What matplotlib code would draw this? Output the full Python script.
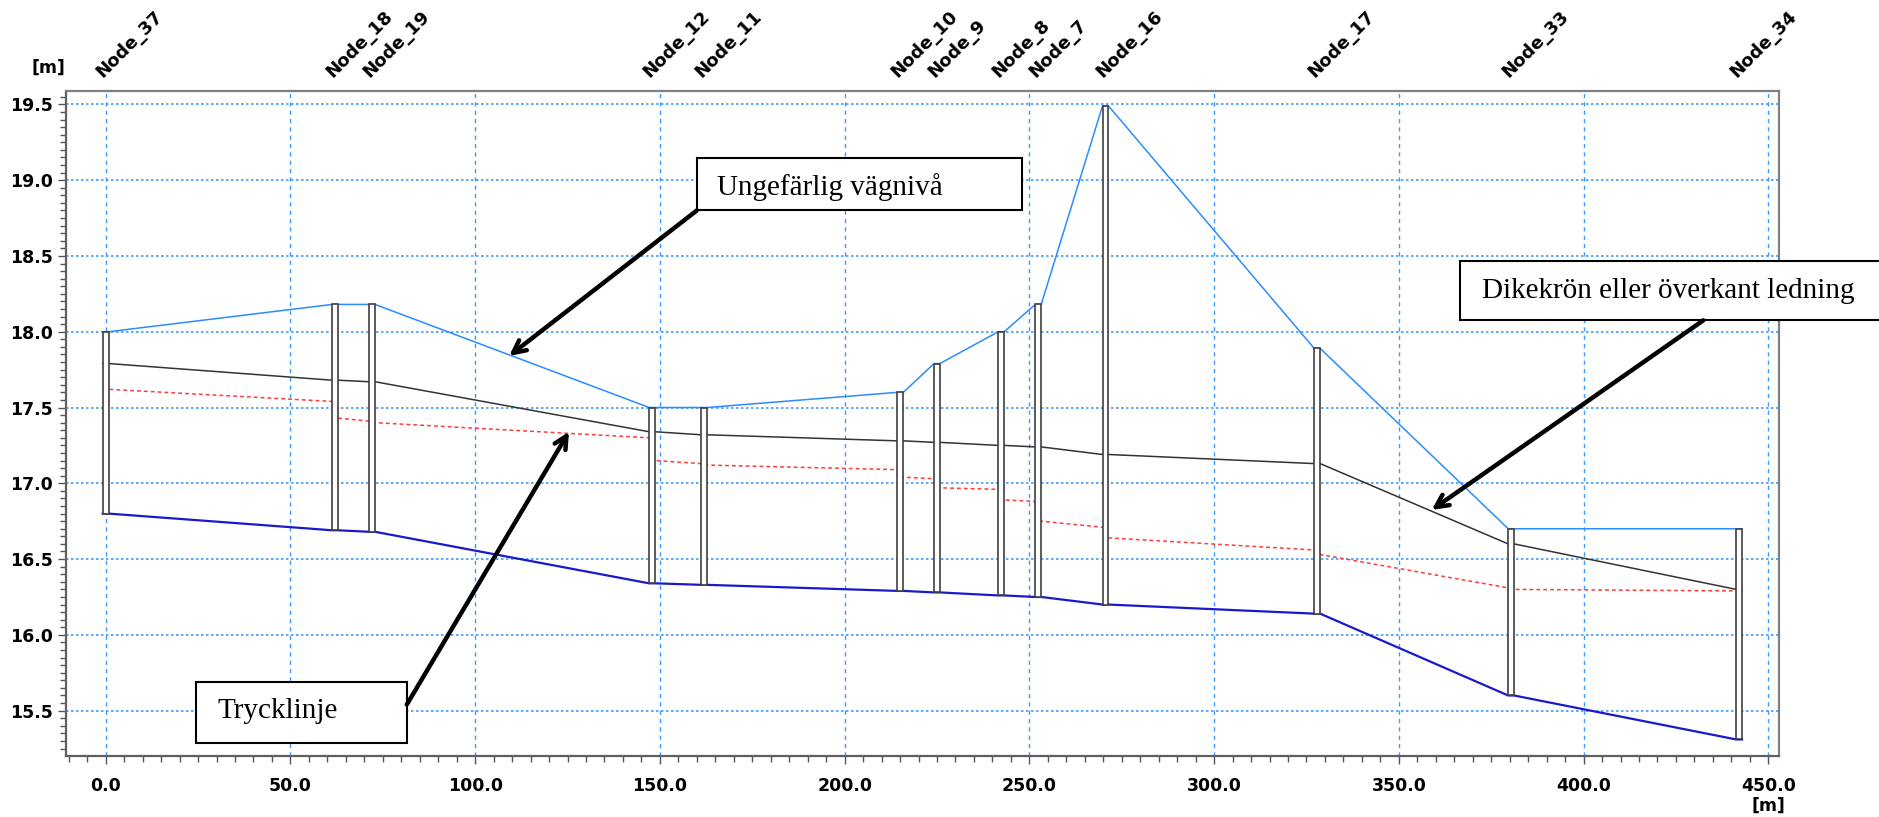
import matplotlib
matplotlib.use("Agg")
import matplotlib.pyplot as plt
from matplotlib.patches import Rectangle
from matplotlib.ticker import MultipleLocator, FormatStrFormatter

# profile along the pipe
nodes = ['Node_37', 'Node_18', 'Node_19', 'Node_12', 'Node_11', 'Node_10', 'Node_9',
         'Node_8', 'Node_7', 'Node_16', 'Node_17', 'Node_33', 'Node_34']
station = [0.0, 62.1, 72.1, 147.9, 162.0, 215.1, 225.0, 242.4, 252.4, 270.6, 327.9, 380.4, 442.1]
ground = [18.00, 18.18, 18.18, 17.50, 17.50, 17.60, 17.79, 18.00, 18.18, 19.49, 17.89, 16.70, 16.70]
invert = [16.80, 16.69, 16.68, 16.34, 16.33, 16.29, 16.28, 16.26, 16.25, 16.20, 16.14, 15.60, 15.31]
crown = [17.79, 17.68, 17.67, 17.34, 17.32, 17.28, 17.27, 17.25, 17.24, 17.19, 17.13, 16.60, 16.30]
head_in = [17.62, 17.54, 17.41, 17.30, 17.13, 17.09, 17.03, 16.96, 16.88, 16.71, 16.56, 16.31, 16.29]
head_out = [17.62, 17.43, 17.40, 17.15, 17.12, 17.04, 16.97, 16.89, 16.75, 16.64, 16.53, 16.30, 16.29]

well_w = 1.6

fig = plt.figure(figsize=(18.79, 8.17), dpi=100)
ax = fig.add_axes([0.035, 0.0747, 0.9118, 0.8139])

xs = []
g_y, c_y, i_y, h_y = [], [], [], []
for k in range(len(nodes)):
    xs += [station[k] - well_w / 2, station[k] + well_w / 2]
    g_y += [ground[k], ground[k]]
    c_y += [crown[k], crown[k]]
    i_y += [invert[k], invert[k]]
    h_y += [head_in[k], head_out[k]]

ax.plot(xs, g_y, color='#2b8cff', lw=1.1, zorder=2)
ax.plot(xs, c_y, color='#333333', lw=1.1, zorder=2)
ax.plot(xs, i_y, color='#1a1acc', lw=1.6, zorder=2)
ax.plot(xs, h_y, color='#ff3b3b', lw=1.1, dashes=(2.5, 2), zorder=2)

for k in range(len(nodes)):
    ax.add_patch(Rectangle((station[k] - well_w / 2, invert[k]), well_w,
                           ground[k] - invert[k], facecolor='white',
                           edgecolor='#404040', lw=1.2, zorder=3))
    ax.annotate(nodes[k], xy=(station[k], 1.0), xycoords=('data', 'axes fraction'),
                xytext=(-2, 9), textcoords='offset points', rotation=45,
                rotation_mode='anchor', ha='left', va='baseline',
                fontsize=13, fontweight='bold', annotation_clip=False)

ax.set_xlim(-10.8, 452.9)
ax.set_ylim(15.201, 19.588)

ax.xaxis.set_major_locator(MultipleLocator(50))
ax.xaxis.set_minor_locator(MultipleLocator(5))
ax.yaxis.set_major_locator(MultipleLocator(0.5))
ax.yaxis.set_minor_locator(MultipleLocator(0.05))
ax.xaxis.set_major_formatter(FormatStrFormatter('%.1f'))
ax.yaxis.set_major_formatter(FormatStrFormatter('%.1f'))

ax.tick_params(axis='both', which='major', length=6, width=1, color='#555555',
               labelsize=12.5)
ax.tick_params(axis='both', which='minor', length=4, width=1, color='#555555')
ax.tick_params(axis='x', which='major', pad=9)
ax.tick_params(axis='y', which='major', pad=3)
for lab in ax.get_xticklabels() + ax.get_yticklabels():
    lab.set_fontweight('bold')

ax.grid(axis='x', which='major', color='#3d9bff', lw=1, dashes=(3, 3), zorder=0)
ax.grid(axis='y', which='major', color='#3d9bff', lw=1.2, dashes=(1.5, 1.5), zorder=0)

for side in ['left', 'bottom']:
    ax.spines[side].set_color('#606060')
    ax.spines[side].set_linewidth(1.6)
for side in ['top', 'right']:
    ax.spines[side].set_color('#808080')
    ax.spines[side].set_linewidth(1.6)

ax.text(0.0, 1.022, '[m]', transform=ax.transAxes, ha='right', va='bottom',
        fontsize=12.5, fontweight='bold')
ax.text(450, -0.062, '[m]', transform=ax.get_xaxis_transform(), ha='center',
        va='top', fontsize=12.5, fontweight='bold')

# callout boxes
arrow = dict(arrowstyle='->, head_length=0.9, head_width=0.45', lw=3.2,
             color='black', shrinkA=0, shrinkB=0)
ax.add_patch(Rectangle((160.0, 18.80), 87.9, 0.344, facecolor='white',
                       edgecolor='black', lw=1.5, zorder=5))
ax.text(165.5, 18.90, 'Ungefärlig vägnivå', family='Liberation Serif',
        fontsize=21, va='baseline', zorder=6)
ax.annotate('', xy=(109.2, 17.84), xytext=(160.0, 18.80), arrowprops=arrow, zorder=6)

ax.add_patch(Rectangle((366.5, 18.075), 120, 0.393, facecolor='white',
                       edgecolor='black', lw=1.5, zorder=5, clip_on=False))
ax.text(372.4, 18.224, 'Dikekrön eller överkant ledning', family='Liberation Serif',
        fontsize=21, va='baseline', zorder=6, clip_on=False)
ax.annotate('', xy=(358.9, 16.824), xytext=(432.4, 18.075), arrowprops=arrow,
            zorder=6, annotation_clip=False)

ax.add_patch(Rectangle((24.5, 15.289), 57.0, 0.398, facecolor='white',
                       edgecolor='black', lw=1.5, zorder=5))
ax.text(30.4, 15.45, 'Trycklinje', family='Liberation Serif',
        fontsize=21, va='baseline', zorder=6)
ax.annotate('', xy=(125.4, 17.34), xytext=(81.5, 15.54), arrowprops=arrow, zorder=6)

fig.savefig('out.png', dpi=100)
